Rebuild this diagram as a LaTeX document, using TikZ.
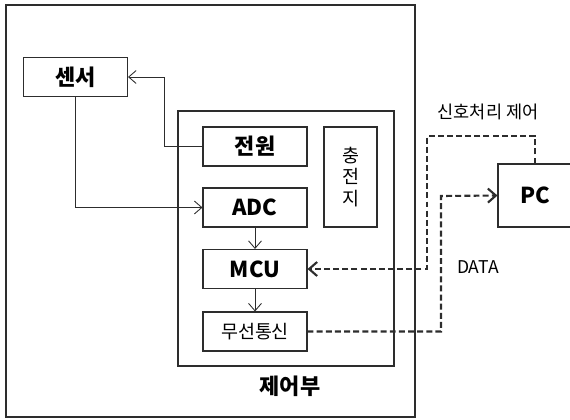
\documentclass[tikz,border=0pt]{standalone}
\usepackage{fontspec}
\setmainfont{Noto Sans CJK KR}
\usetikzlibrary{arrows.meta,positioning}
\definecolor{linegray}{RGB}{45,45,45}

\begin{document}
\begin{tikzpicture}[x=0.02cm, y=-0.02cm,
    blk/.style={rectangle, draw=linegray, line width=0.6pt,
        minimum width=2.08cm, minimum height=0.78cm, inner sep=0pt,
        align=center, font=\bfseries\fontsize{12.5}{14}\selectfont},
    blkn/.style={blk, font=\fontsize{10.5}{12}\selectfont},
    lbl/.style={font=\fontsize{10}{12}\selectfont, inner sep=0pt},
    arr/.style={-{Straight Barb[length=1.5mm, width=2.6mm]}, line width=0.5pt, linegray},
    darr/.style={-{Straight Barb[length=1.6mm, width=2.8mm]}, line width=1.2pt, linegray,
        dash pattern=on 3.4pt off 1.8pt}
]
    \useasboundingbox (0,0) rectangle (570,419);
    % frames
    \draw[linegray, line width=0.6pt] (6,5) rectangle (415,417);
    \draw[linegray, line width=0.6pt] (178,111) rectangle (394,366);
    \node[font=\bfseries\fontsize{12.5}{14}\selectfont] (ctrl) at (290,386) {제어부};

    \node[blk] (sensor) at (75.5,77) {센서};
    \node[blk] (pwr)    at (255,146.5) {전원};
    \node[blk] (adc)    at (255,207.5) {ADC};
    \node[blk] (mcu)    at (255,269) {MCU};
    \node[blkn] (wl)    at (255,331.5) {무선통신};
    \node[blkn, minimum width=1.06cm, minimum height=2cm] (bat) at (350.5,177) {충\\전\\지};
    \node[blk, minimum width=1.48cm, minimum height=1.26cm] (pc) at (535,195.5) {PC};

    \node[lbl] (ctlabel) at (488,112) {신호처리 제어};
    \node[lbl] (datalabel) at (478,267) {DATA};

    \coordinate (c1) at (427,136);
    \coordinate (c2) at (441,196);

    \draw[arr] (pwr.west) -- ++(-38,0) |- (sensor.east);
    \draw[arr] (sensor.south) |- (adc.west);
    \draw[arr] (adc) -- (mcu);
    \draw[arr] (mcu) -- (wl);
    \draw[darr] (pc.north) |- (c1) |- (mcu.east);
    \draw[darr] (wl.east) -| (c2) -- (pc.west);
\end{tikzpicture}
\end{document}
